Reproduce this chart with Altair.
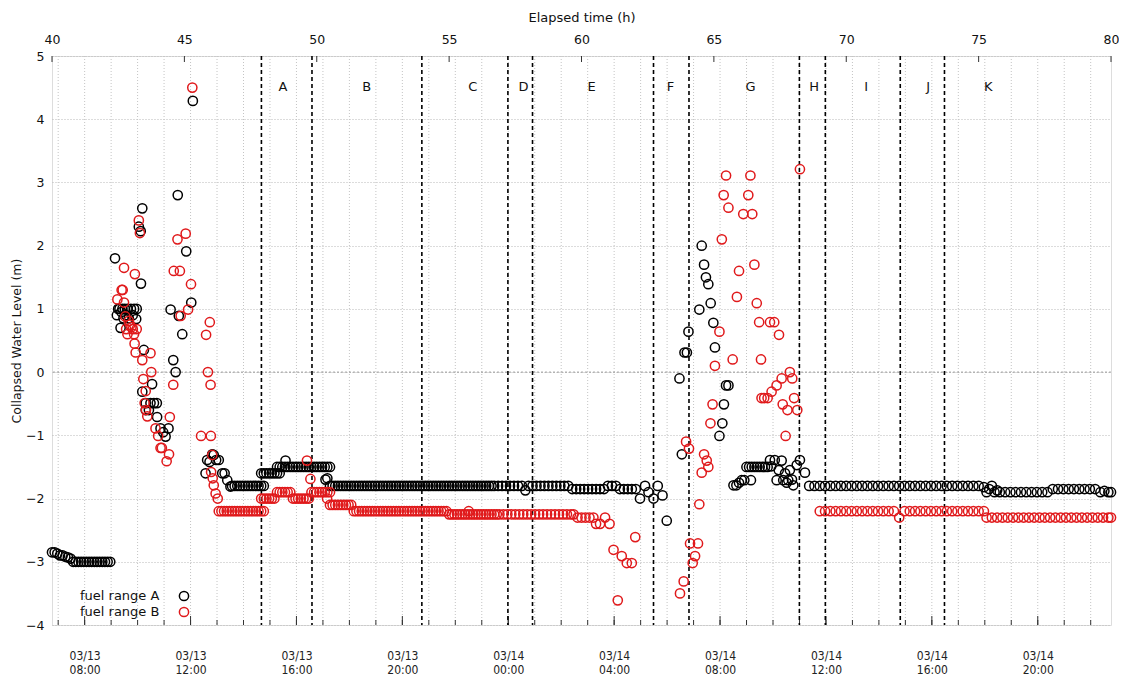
import altair as alt
import pandas as pd

# ------------------------------------------------------------------ data
# elapsed time origin: 2011-03-11 14:46
T0 = pd.Timestamp("2011-03-11 14:46")

# fuel range A (black) -- individual readings (elapsed h, level m)
A_POINTS = [
    (40.0, -2.85), (40.1, -2.85), (40.2, -2.87), (40.3, -2.9), (40.4, -2.9),
    (40.5, -2.92), (40.6, -2.93), (40.7, -2.95),
    (42.38, 1.80), (42.45, 0.90), (42.5, 1.0), (42.55, 1.0), (42.59, 0.70),
    (42.62, 0.95), (42.66, 1.0), (42.7, 0.85), (42.75, 1.0), (42.8, 0.9),
    (42.85, 1.0), (42.9, 0.85), (42.98, 1.0), (43.05, 0.9), (43.1, 1.0),
    (43.18, 0.84), (43.2, 1.0), (43.28, 2.30), (43.35, 2.23), (43.36, 1.40),
    (43.41, 2.59), (43.41, -0.31), (43.47, 0.35), (43.54, -0.49), (43.54, -0.60),
    (43.66, -0.60), (43.72, -0.49), (43.78, -0.19), (43.85, -0.49), (43.96, -0.49),
    (43.97, -0.71), (44.1, -0.89), (44.2, -0.95), (44.29, -1.02), (44.4, -0.89),
    (44.48, 0.99), (44.58, 0.19), (44.67, 0.0), (44.75, 2.80), (44.79, 0.89),
    (44.92, 0.60), (45.07, 1.91), (45.26, 1.10), (45.32, 4.29),
    (45.8, -1.6), (45.86, -1.39), (45.95, -1.42), (46.05, -1.30), (46.11, -1.31),
    (46.2, -1.39), (46.3, -1.39), (46.43, -1.6), (46.52, -1.6), (46.62, -1.71),
    (46.74, -1.81),
    (48.82, -1.40), (50.33, -1.7), (50.4, -1.68), (57.88, -1.87),
    (62.21, -2.0), (62.4, -1.8), (62.53, -1.9), (62.72, -2.0), (62.88, -1.8),
    (63.06, -1.95), (63.22, -2.35),
    (63.70, -0.10), (63.79, -1.30), (63.89, 0.31), (63.98, 0.31), (64.04, 0.64),
    (64.45, 0.99), (64.54, 2.00), (64.63, 1.70), (64.70, 1.50), (64.79, 1.39),
    (64.88, 1.09), (64.98, 0.78), (65.04, 0.39), (65.21, -1.01), (65.32, -0.81),
    (65.38, -0.51), (65.46, -0.21), (65.55, -0.21), (65.74, -1.79), (65.85, -1.79),
    (65.95, -1.75), (66.05, -1.71), (66.15, -1.71), (66.4, -1.71), (67.12, -1.39),
    (67.17, -1.49), (67.3, -1.39), (67.37, -1.71), (67.45, -1.55), (67.56, -1.40),
    (67.62, -1.71), (67.69, -1.60), (67.75, -1.75), (67.81, -1.71), (67.87, -1.55),
    (67.95, -1.70), (68.0, -1.79), (68.13, -1.47), (68.25, -1.39), (68.44, -1.59),
    (75.2, -1.82), (75.3, -1.9), (75.4, -1.85), (75.5, -1.8), (75.6, -1.9),
    (75.7, -1.87), (79.75, -1.88),
]

# fuel range A -- runs of readings at one level: (level, elapsed times)
A_RUNS = [
    (-3.0, [40.8, 40.9, 41.0, 41.1, 41.2, 41.3, 41.4, 41.5, 41.6, 41.7, 41.8,
            41.9, 42.0, 42.1, 42.2]),
    (-1.8, [46.8, 46.9, 47.0, 47.1, 47.2, 47.3, 47.4, 47.5, 47.6, 47.7, 47.8,
            47.9, 48.0]),
    (-1.6, [47.9, 48.0, 48.1, 48.2, 48.3, 48.4, 48.5, 48.6]),
    (-1.5, [48.5, 48.6, 48.7, 48.8, 48.9, 49.0, 49.1, 49.2, 49.3, 49.4, 49.5,
            49.6, 49.7, 49.8, 49.9, 50.0, 50.1, 50.2, 50.3, 50.4, 50.5]),
    (-1.8, [50.5, 50.6, 50.7, 50.8, 50.9, 51.0, 51.1, 51.2, 51.3, 51.4, 51.5,
            51.6, 51.7, 51.8, 51.9, 52.0, 52.1, 52.2, 52.3, 52.4, 52.5, 52.6,
            52.7, 52.8, 52.9, 53.0, 53.1, 53.2, 53.3, 53.4, 53.5, 53.6, 53.7,
            53.8, 53.9, 54.0, 54.1, 54.2, 54.3, 54.4, 54.5, 54.6, 54.7, 54.8,
            54.9, 55.0, 55.1, 55.2, 55.3, 55.4, 55.5, 55.6, 55.7, 55.8, 55.9,
            56.0, 56.1, 56.2, 56.3, 56.4, 56.5, 56.6, 56.7]),
    (-1.8, [56.85, 57.0, 57.15, 57.3, 57.45, 57.6, 57.75, 58.0, 58.15, 58.3,
            58.45, 58.6, 58.75, 58.9, 59.05, 59.2, 59.35, 59.5, 61.0, 61.15, 61.3]),
    (-1.85, [59.65, 59.8, 59.95, 60.1, 60.25, 60.4, 60.55, 60.7, 60.85, 61.45,
             61.6, 61.75, 61.9, 62.05]),
    (-1.5, [66.23, 66.33, 66.43, 66.53, 66.63, 66.73, 66.83, 66.93, 67.03]),
    (-1.8, [68.6, 68.8, 69.0, 69.2, 69.4, 69.6, 69.8, 70.0, 70.2, 70.4, 70.6,
            70.8, 71.0, 71.2, 71.4, 71.6, 71.8, 72.0, 72.2, 72.4, 72.6, 72.8,
            73.0, 73.2, 73.4, 73.6, 73.8, 74.0, 74.2, 74.4, 74.6, 74.8, 75.0]),
    (-1.9, [75.8, 76.0, 76.2, 76.4, 76.6, 76.8, 77.0, 77.2, 77.4, 77.6, 79.6,
            79.9, 80.0]),
    (-1.85, [77.8, 78.0, 78.2, 78.4, 78.6, 78.8, 79.0, 79.2, 79.4]),
]

# fuel range B (red) -- individual readings
B_POINTS = [
    (42.47, 1.15), (42.63, 1.30), (42.67, 1.30), (42.72, 1.65), (42.72, 1.10),
    (42.77, 0.88), (42.8, 0.68), (42.85, 0.60), (42.9, 0.81), (42.95, 0.75),
    (43.0, 0.71), (43.05, 0.68), (43.1, 0.60), (43.12, 0.45), (43.13, 1.55),
    (43.16, 0.31), (43.2, 0.68), (43.28, 2.40), (43.32, 2.20), (43.41, 0.19),
    (43.45, -0.11), (43.5, -0.49), (43.54, -0.30), (43.55, -0.60), (43.6, -0.70),
    (43.72, 0.30), (43.75, 0.0), (43.91, -0.89), (44.01, -1.01), (44.1, -1.20),
    (44.15, -1.20), (44.33, -1.41), (44.42, -1.30), (44.45, -0.71), (44.58, -0.20),
    (44.6, 1.60), (44.74, 2.10), (44.83, 1.60), (44.86, 0.89), (45.05, 2.19),
    (45.14, 0.99), (45.25, 1.39), (45.3, 4.50), (45.63, -1.01), (45.82, 0.59),
    (45.89, 0.0), (45.96, 0.79), (45.99, -0.20), (46.0, -1.01), (46.01, -1.58),
    (46.05, -1.31), (46.07, -1.68), (46.11, -1.79), (46.18, -1.92), (46.26, -2.0),
    (49.63, -1.40), (49.76, -1.69),
    (61.21, -2.81), (61.37, -3.61), (61.52, -2.91), (61.71, -3.02), (61.9, -3.02),
    (62.03, -2.61),
    (63.72, -3.50), (63.86, -3.31), (63.95, -1.10), (64.06, -1.21), (64.10, -2.71),
    (64.20, -3.02), (64.29, -2.91), (64.40, -2.71), (64.45, -2.09), (64.54, -1.59),
    (64.63, -1.30), (64.73, -1.40), (64.79, -1.50), (64.87, -0.81), (64.95, -0.51),
    (65.04, 0.10), (65.21, 0.64), (65.30, 2.10), (65.37, 2.80), (65.46, 3.11),
    (65.55, 2.60), (65.71, 0.20), (65.87, 1.19), (65.95, 1.60), (66.11, 2.50),
    (66.30, 2.80), (66.38, 3.11), (66.45, 2.50), (66.53, 1.70), (66.62, 1.09),
    (66.71, 0.79), (66.78, 0.20), (66.80, -0.41), (66.90, -0.41), (67.03, -0.41),
    (67.12, 0.79), (67.18, -0.31), (67.28, 0.79), (67.37, -0.21), (67.46, 0.59),
    (67.56, -0.10), (67.60, -0.51), (67.71, -1.01), (67.78, -0.60), (67.87, 0.0),
    (67.96, -0.10), (68.03, -0.41), (68.15, -0.60), (68.25, 3.21),
]

# fuel range B -- runs of readings at one level
B_RUNS = [
    (-2.2, [46.3, 46.4, 46.5, 46.6, 46.7, 46.8, 46.9, 47.0, 47.1, 47.2, 47.3,
            47.4, 47.5, 47.6, 47.7, 47.8, 47.9, 48.0]),
    (-2.0, [47.9, 48.0, 48.1, 48.2, 48.3, 48.4, 49.1, 49.2, 49.3, 49.4, 49.5,
            49.6, 49.7, 50.39]),
    (-1.9, [48.5, 48.6, 48.7, 48.8, 48.9, 49.0, 49.8, 49.9, 50.0, 50.1, 50.2,
            50.3, 50.4, 50.5]),
    (-2.1, [50.5, 50.6, 50.7, 50.8, 50.9, 51.0, 51.1, 51.2, 51.3]),
    (-2.2, [51.4, 51.5, 51.6, 51.7, 51.8, 51.9, 52.0, 52.1, 52.2, 52.3, 52.4,
            52.5, 52.6, 52.7, 52.8, 52.9, 53.0, 53.1, 53.2, 53.3, 53.4, 53.5,
            53.6, 53.7, 53.8, 53.9, 54.0, 54.1, 54.2, 54.3, 54.4, 54.5, 54.6,
            54.7, 54.8, 54.9, 55.74]),
    (-2.25, [55.0, 55.1, 55.2, 55.3, 55.4, 55.5, 55.6, 55.7, 55.8, 55.9, 56.0,
             56.1, 56.2, 56.3, 56.4, 56.5, 56.6, 56.7, 56.8, 56.9, 57.05, 57.2,
             57.35, 57.5, 57.65, 57.8, 57.95, 58.1, 58.25, 58.4, 58.55, 58.7,
             58.85, 59.0, 59.15, 59.3, 59.45, 59.6, 59.7]),
    (-2.3, [59.85, 60.0, 60.15, 60.3, 60.45, 60.89]),
    (-2.4, [60.55, 60.7, 61.06]),
    (-2.2, [69.0, 69.2, 69.4, 69.6, 69.8, 70.0, 70.2, 70.4, 70.6, 70.8, 71.0,
            71.2, 71.4, 71.6, 71.8, 72.2, 72.4, 72.6, 72.8, 73.0, 73.2, 73.4,
            73.6, 73.8, 74.0, 74.2, 74.4, 74.6, 74.8, 75.0, 75.2]),
    (-2.3, [72.0, 75.3, 75.5, 75.7, 75.9, 76.1, 76.3, 76.5, 76.7, 76.9, 77.1,
            77.3, 77.5, 77.7, 77.9, 78.1, 78.3, 78.5, 78.7, 78.9, 79.1, 79.3,
            79.5, 79.7, 79.9, 80.0]),
]

SERIES_NAMES = ["fuel range A", "fuel range B"]
SERIES_COLORS = ["#000000", "#e0191b"]

# phase boundaries (elapsed h) and phase labels
PHASE_BOUNDS = [47.91, 49.82, 53.97, 57.22, 58.15, 62.72, 64.06, 68.23, 69.21, 72.04, 73.71]
PHASE_NAMES = ["A", "B", "C", "D", "E", "F", "G", "H", "I", "J", "K"]
PHASE_LABEL_POS = [48.72, 51.89, 55.89, 57.81, 60.38, 63.36, 66.38, 68.79, 70.75, 73.09, 75.36]

TOP_TICKS = [40, 45, 50, 55, 60, 65, 70, 75, 80]
Y_TICKS = [-4, -3, -2, -1, 0, 1, 2, 3, 4, 5]
CLOCK_LABELS = ["2011-03-13 08:00", "2011-03-13 12:00", "2011-03-13 16:00",
                "2011-03-13 20:00", "2011-03-14 00:00", "2011-03-14 04:00",
                "2011-03-14 08:00", "2011-03-14 12:00", "2011-03-14 16:00",
                "2011-03-14 20:00"]


def elapsed(ts):
    return (pd.Timestamp(ts) - T0).total_seconds() / 3600.0


label_vals = [elapsed(s) for s in CLOCK_LABELS]
hour_ticks = [elapsed(ts) for ts in pd.date_range("2011-03-13 07:00", "2011-03-14 23:00", freq="h")
              if elapsed(ts) <= 80]

rows = []
for name, pts, runs in [(SERIES_NAMES[0], A_POINTS, A_RUNS), (SERIES_NAMES[1], B_POINTS, B_RUNS)]:
    for t, y in pts:
        rows.append({"t": t, "level": y, "series": name})
    for lev, ts in runs:
        for t in ts:
            rows.append({"t": t, "level": lev, "series": name})
df = pd.DataFrame(rows)

FONT = "DejaVu Sans"
W, H = 1059, 569
PT_SIZE = 85
PT_STROKE = 1.5
xs = alt.Scale(domain=[40, 80], nice=False, zero=False)
ys = alt.Scale(domain=[-4, 5], nice=False, zero=False)

label_expr = ("[utcFormat(utc(2011,2,11,14,46) + round(datum.value*60)*60000, '%m/%d'), "
              "utcFormat(utc(2011,2,11,14,46) + round(datum.value*60)*60000, '%H:%M')]")

ticks_df = pd.DataFrame({"t": hour_ticks})
major_df = pd.DataFrame({"t": label_vals})
top_df = pd.DataFrame({"t": TOP_TICKS})

# vertical dotted grid at clock hours + bottom clock axis
vgrid = alt.Chart(ticks_df).mark_rule(color="#c4c4c4", strokeDash=[1, 2], strokeWidth=1).encode(
    x=alt.X("t:Q", scale=xs, axis=alt.Axis(
        orient="bottom", values=label_vals, labelExpr=label_expr, ticks=False, tickSize=0,
        domain=False, grid=False, title=None, labelFont="DejaVu Sans Condensed, Liberation Sans, DejaVu Sans",
        labelFontSize=12, labelColor="#222", labelPadding=25, labelLineHeight=14,
        labelBaseline="top", labelAlign="center", labelFlush=False, labelOverlap=False))
)

minor_ticks = alt.Chart(ticks_df).mark_rule(color="#333", strokeWidth=1).encode(
    x=alt.X("t:Q", scale=xs, axis=None), y=alt.value(H), y2=alt.value(H - 5))
major_ticks = alt.Chart(major_df).mark_rule(color="#333", strokeWidth=1).encode(
    x=alt.X("t:Q", scale=xs, axis=None), y=alt.value(H), y2=alt.value(H - 9))
top_ticks = alt.Chart(top_df).mark_rule(color="#333", strokeWidth=1).encode(
    x=alt.X("t:Q", scale=xs, axis=None), y=alt.value(0), y2=alt.value(6))

zero_line = alt.Chart(pd.DataFrame({"v": [0]})).mark_rule(color="#9a9a9a", strokeDash=[2, 2], strokeWidth=1).encode(
    y=alt.Y("v:Q", scale=ys, axis=None))

phase_rules = alt.Chart(pd.DataFrame({"t": PHASE_BOUNDS})).mark_rule(
    color="#000", strokeDash=[4, 3], strokeWidth=1.6).encode(
    x=alt.X("t:Q", scale=xs, axis=None))

phase_text = alt.Chart(pd.DataFrame({"t": PHASE_LABEL_POS, "label": PHASE_NAMES})).mark_text(
    font=FONT, fontSize=13, color="#111", baseline="middle", align="center").encode(
    x=alt.X("t:Q", scale=xs, axis=None), y=alt.value(31), text="label:N")

points = alt.Chart(df).mark_point(shape="circle", filled=False, size=PT_SIZE, strokeWidth=PT_STROKE,
                                  opacity=1).encode(
    x=alt.X("t:Q", scale=xs, axis=alt.Axis(
        orient="top", values=TOP_TICKS, ticks=False, tickSize=0, domain=False, grid=False,
        title="Elapsed time (h)", titleFont=FONT, titleFontSize=13, titleFontWeight="normal",
        titleColor="#111", titlePadding=9, labelFont=FONT, labelFontSize=12.5, labelColor="#111",
        labelPadding=10, labelFlush=False, format="d")),
    y=alt.Y("level:Q", scale=ys, axis=alt.Axis(
        values=Y_TICKS, ticks=False, tickSize=0, domain=False, grid=True, gridDash=[1, 2],
        gridColor="#b8b8b8", title="Collapsed Water Level (m)", titleFont=FONT,
        titleFontSize=12.5, titleFontWeight="normal", titleColor="#111", titlePadding=2,
        labelFont=FONT, labelFontSize=12.5, labelColor="#111", labelPadding=8, format="d")),
    color=alt.Color("series:N", scale=alt.Scale(domain=SERIES_NAMES, range=SERIES_COLORS), legend=None),
)

leg_layers = []
for i, (name, col) in enumerate(zip(SERIES_NAMES, SERIES_COLORS)):
    yy = 540 + 16 * i
    d = pd.DataFrame({"label": [name]})
    leg_layers.append(alt.Chart(d).mark_text(font=FONT, fontSize=13, color="#111", align="left",
                                             baseline="middle").encode(
        x=alt.value(28), y=alt.value(yy), text="label:N"))
    leg_layers.append(alt.Chart(d).mark_point(shape="circle", filled=False, size=PT_SIZE,
                                              strokeWidth=PT_STROKE, opacity=1, color=col).encode(
        x=alt.value(132), y=alt.value(yy)))

chart = alt.layer(
    vgrid, zero_line, minor_ticks, major_ticks, top_ticks, phase_rules, phase_text, points, *leg_layers
).resolve_axis(x="independent", y="independent").properties(
    width=W, height=H,
    autosize=alt.AutoSizeParams(type="none"),
    padding={"left": 44, "top": 48, "right": 8, "bottom": 50},
).configure_view(stroke="#333", strokeWidth=1).configure(background="white")

chart.save("out.html", embed_options={"renderer": "svg", "actions": False})
